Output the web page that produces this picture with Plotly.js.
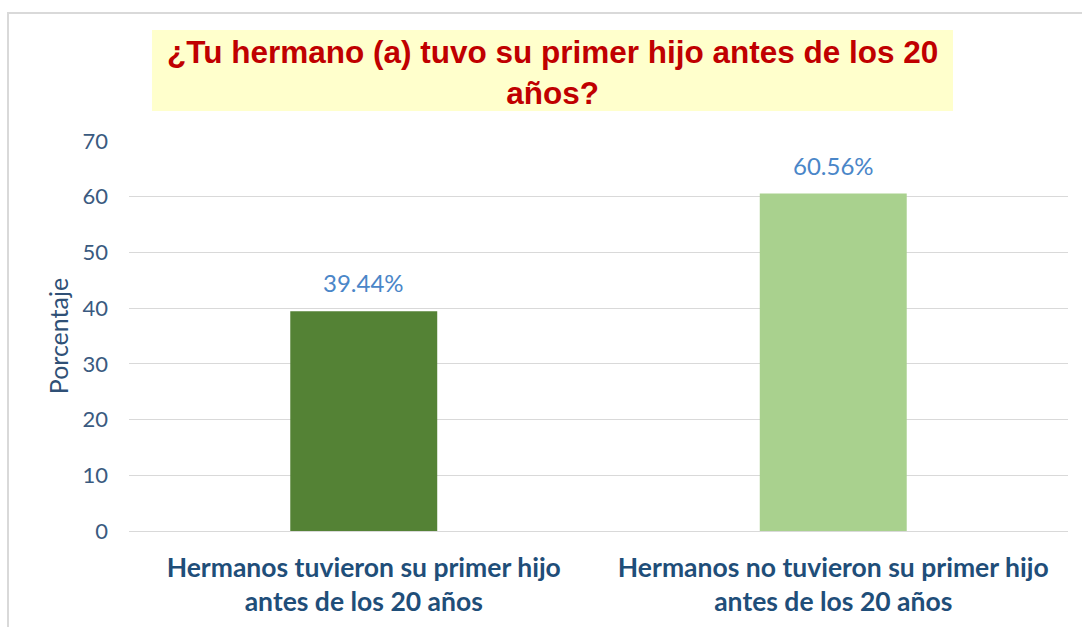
<!DOCTYPE html>
<html>
<head>
<meta charset="utf-8">
<script src="https://cdn.plot.ly/plotly-3.0.1.min.js"></script>
<style>html,body{margin:0;padding:0;background:#fff;}#chart{width:1082px;height:627px;}</style>
</head>
<body>
<div id="chart"></div>
<script>
var categories = ["Hermanos tuvieron su primer hijo<br>antes de los 20 años", "Hermanos no tuvieron su primer hijo<br>antes de los 20 años"];
var values = [39.44, 60.56];
var barColors = ["#548235", "#A9D18E"];
var yTicks = [0, 10, 20, 30, 40, 50, 60, 70];
var titleText = "¿Tu hermano (a) tuvo su primer hijo antes de los 20<br>años?";
var yTitle = "Porcentaje";

var trace = {
  type: "bar",
  x: categories,
  y: values,
  marker: {color: barColors},
  hoverinfo: "none"
};

var labelAnnotations = values.map(function (v, i) {
  return {
    x: categories[i], y: v, xref: "x", yref: "y",
    text: v.toFixed(2) + "%", showarrow: false,
    yanchor: "bottom", yshift: 12,
    font: {family: "Lato, sans-serif", size: 24, color: "#4A86C8"}
  };
});

var layout = {
  width: 1082, height: 627,
  margin: {l: 129, r: 14, t: 141, b: 96},
  paper_bgcolor: "#FFFFFF",
  plot_bgcolor: "#FFFFFF",
  showlegend: false,
  bargap: 0.687,
  xaxis: {
    type: "category",
    showgrid: false, zeroline: false, showline: false,
    ticks: "", ticklabelstandoff: 18,
    tickfont: {family: "Lato, sans-serif", size: 26.5, color: "#1F4E79", weight: "bold"}
  },
  yaxis: {
    range: [0, 70], tickvals: yTicks, ticktext: yTicks.map(String),
    showgrid: true, gridcolor: "#D9D9D9", gridwidth: 1,
    zeroline: true, zerolinecolor: "#D9D9D9", zerolinewidth: 1,
    showline: false, ticks: "", ticklabelstandoff: 20,
    tickfont: {family: "Lato, sans-serif", size: 22, color: "#3A5A80"},
    title: {text: yTitle, standoff: 6, font: {family: "Lato, sans-serif", size: 25, color: "#2F5076"}}
  },
  shapes: [
    {type: "rect", xref: "paper", yref: "paper",
     x0: (8 - 129) / 939, x1: (1095 - 129) / 939, y0: (531 - 650) / 390, y1: (531 - 13) / 390,
     line: {color: "#D9D9D9", width: 2}, fillcolor: "rgba(0,0,0,0)", layer: "below"},
    {type: "rect", xref: "paper", yref: "paper",
     x0: (152 - 129) / 939, x1: (953 - 129) / 939, y0: (531 - 111) / 390, y1: (531 - 30) / 390,
     line: {width: 0}, fillcolor: "#FFFFCC", layer: "below"}
  ],
  annotations: labelAnnotations.concat([{
    xref: "paper", yref: "paper",
    x: (552.5 - 129) / 939, y: (531 - 73) / 390,
    text: titleText, showarrow: false, xanchor: "center", yanchor: "middle",
    font: {family: "'Liberation Sans', Arial, sans-serif", size: 31.5, color: "#C00000", weight: "bold"}
  }])
};

Plotly.newPlot("chart", [trace], layout, {displayModeBar: false, staticPlot: true});
</script>
</body>
</html>
